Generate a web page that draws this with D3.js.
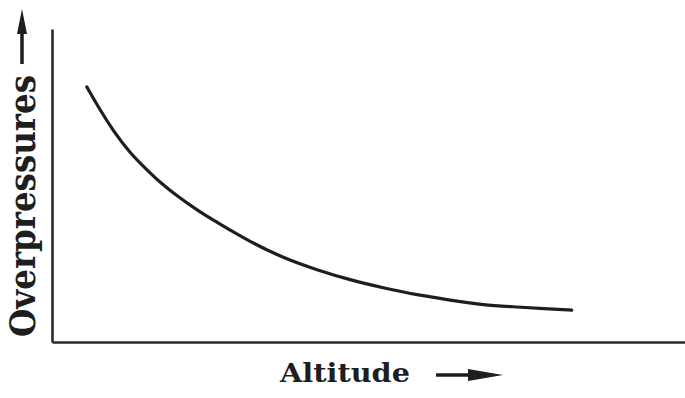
<!DOCTYPE html>
<html>
<head>
<meta charset="utf-8">
<script src="https://cdn.jsdelivr.net/npm/d3@7"></script>
<style>
  html, body { margin: 0; padding: 0; background: #fff; }
  svg { display: block; }
  text { font-family: "DejaVu Serif", serif; font-weight: bold; fill: #1e1e1e; }
</style>
</head>
<body>
<svg id="chart" width="685" height="398"></svg>
<script>
// Qualitative curve: overpressure falls off with altitude (arbitrary units)
const altitude = [5.5, 7.6, 9.6, 12.3, 15.0, 17.5, 20.2, 22.9, 25.4, 28.1, 30.8, 36.5, 41.9, 47.1, 52.3, 57.7, 62.9, 68.1, 73.5, 78.7, 82.1];
const overpressure = [81.5, 74.1, 67.7, 60.4, 55.0, 50.2, 46.0, 42.2, 39.0, 35.8, 32.6, 26.8, 23.0, 19.8, 17.3, 15.0, 13.4, 11.8, 11.2, 10.5, 10.2];
const xTitle = "Altitude";
const yTitle = "Overpressures";

const svg = d3.select("#chart");
const ink = "#1e1e1e";

const x = d3.scaleLinear().domain([0, 100]).range([52, 685]);
const y = d3.scaleLinear().domain([0, 100]).range([342, 29]);

// Bare axes: no ticks, just the lines
svg.append("g").attr("transform", `translate(0,${y(0)})`)
  .call(d3.axisBottom(x).tickValues([]).tickSizeOuter(0));
svg.append("g").attr("transform", `translate(${x(0)},0)`)
  .call(d3.axisLeft(y).tickValues([]).tickSizeOuter(0));
svg.selectAll(".domain").attr("stroke", "#2a2a2a").attr("stroke-width", 2.6);

// Curve, smoothed through the sampled points
const pts = altitude.map((a, i) => [a, overpressure[i]]);
const line = d3.line().x(d => x(d[0])).y(d => y(d[1])).curve(d3.curveBasis);
svg.append("path")
  .datum(pts)
  .attr("d", line)
  .attr("fill", "none")
  .attr("stroke", ink)
  .attr("stroke-width", 3.2)
  .attr("stroke-linecap", "round");

// X title with arrow
svg.append("text")
  .attr("x", 280).attr("y", 382)
  .attr("font-size", 26)
  .attr("textLength", 130)
  .attr("lengthAdjust", "spacingAndGlyphs")
  .text(xTitle);
svg.append("line")
  .attr("x1", 436).attr("y1", 375).attr("x2", 478).attr("y2", 375)
  .attr("stroke", ink).attr("stroke-width", 3.5);
svg.append("path")
  .attr("d", "M468,369 L503,375 L468,381 Z")
  .attr("fill", ink);

// Y title with arrow
svg.append("text")
  .attr("transform", "translate(35,337) rotate(-90)")
  .attr("font-size", 35)
  .attr("textLength", 262)
  .attr("lengthAdjust", "spacingAndGlyphs")
  .text(yTitle);
svg.append("line")
  .attr("x1", 22).attr("y1", 64).attr("x2", 22).attr("y2", 28)
  .attr("stroke", ink).attr("stroke-width", 3.5);
svg.append("path")
  .attr("d", "M17,34 L22,9 L27,34 Z")
  .attr("fill", ink);
</script>
</body>
</html>
